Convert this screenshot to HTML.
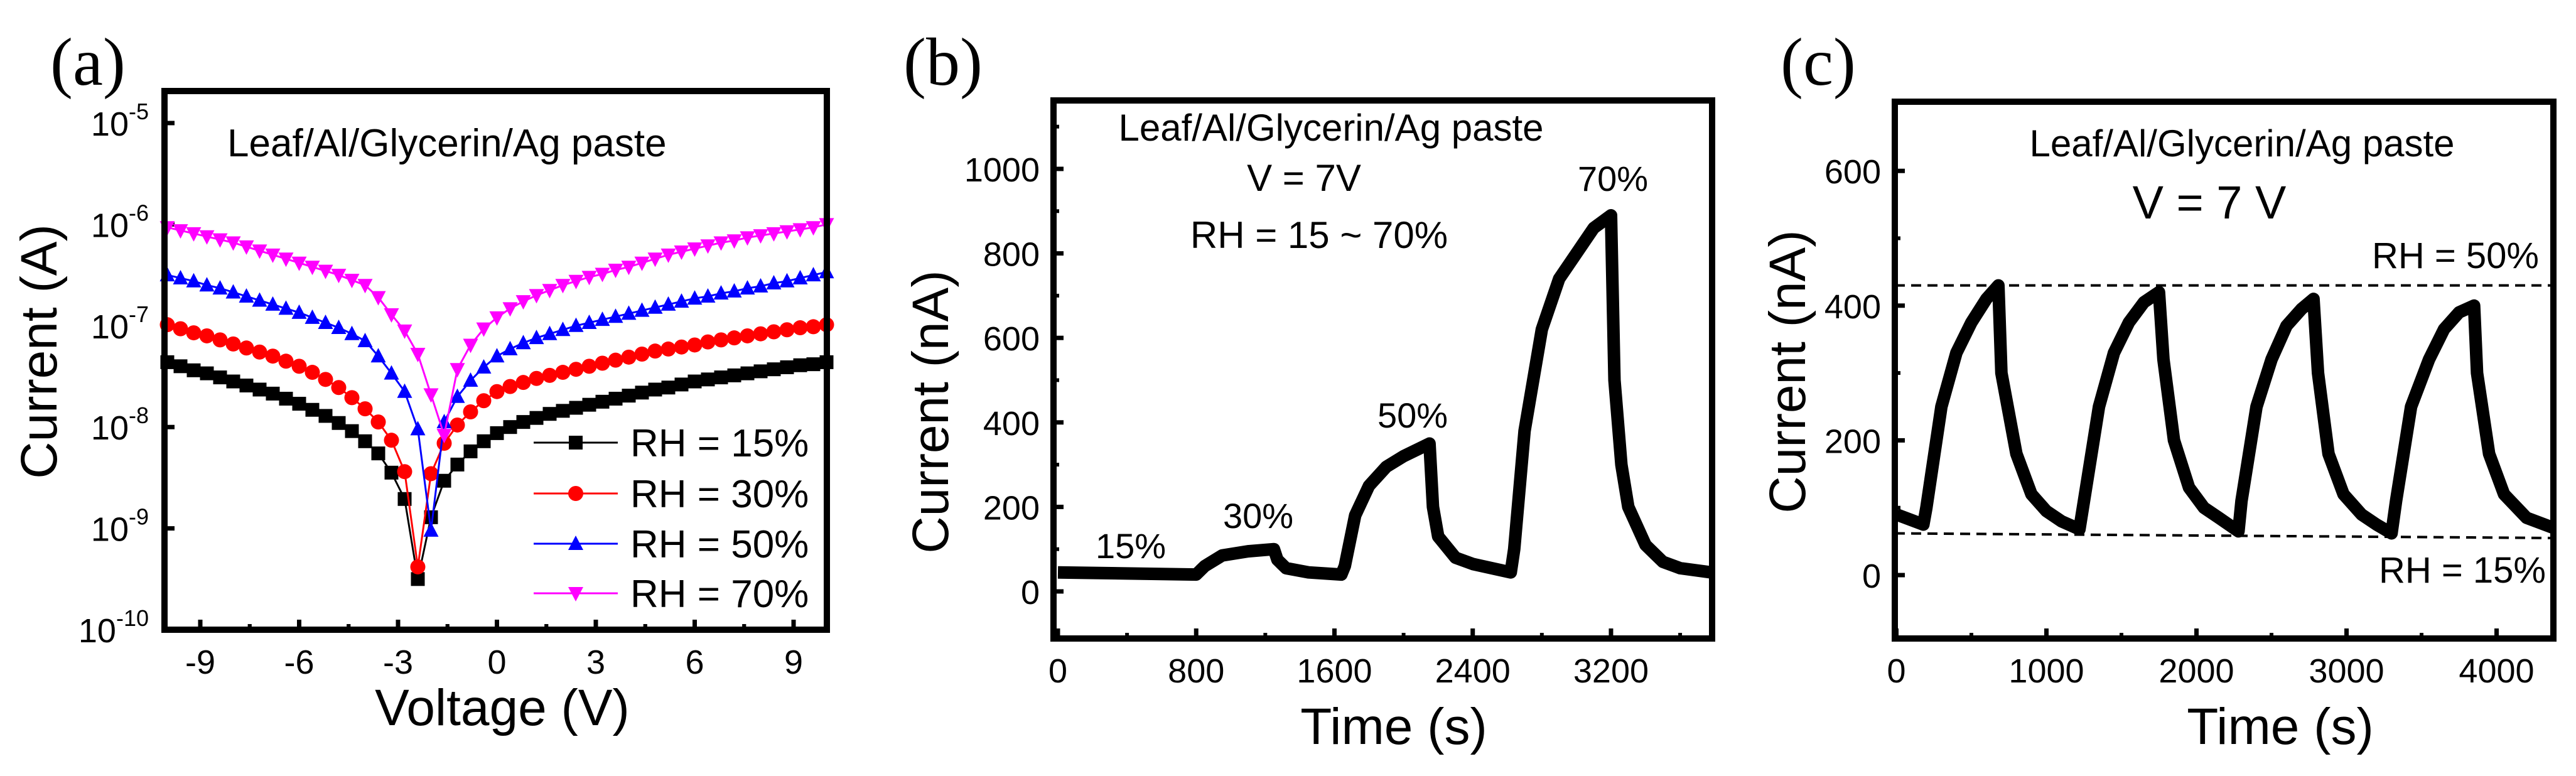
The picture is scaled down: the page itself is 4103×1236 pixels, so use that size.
<!DOCTYPE html>
<html><head><meta charset="utf-8"><style>
html,body{margin:0;padding:0;background:#fff;}
svg{display:block;font-family:"Liberation Sans",sans-serif;}
</style></head><body>
<svg id="fig" width="4103" height="1236" viewBox="0 0 4103 1236" xmlns="http://www.w3.org/2000/svg"></svg>
<script>
// ---------- Panel (a) data: log10(Current) vs Voltage ----------
const voltages = [];
for (let k = 0; k <= 50; k++) voltages.push(+(-10 + 0.4 * k).toFixed(1));
const logI15 = [-7.36,-7.40,-7.44,-7.47,-7.51,-7.55,-7.59,-7.63,-7.67,-7.72,-7.77,-7.83,-7.89,-7.96,-8.04,-8.14,
 -8.26,-8.45,-8.71,-9.50,-8.89,-8.53,-8.37,-8.24,-8.14,-8.06,
 -8.00,-7.95,-7.91,-7.87,-7.84,-7.81,-7.78,-7.75,-7.72,-7.69,-7.66,-7.63,-7.61,-7.58,-7.55,-7.53,-7.51,-7.49,-7.47,-7.45,-7.43,-7.41,-7.39,-7.38,-7.36];
const logI30 = [-6.99,-7.03,-7.07,-7.10,-7.14,-7.18,-7.22,-7.26,-7.30,-7.35,-7.40,-7.46,-7.53,-7.61,-7.71,-7.82,
 -7.95,-8.13,-8.44,-9.38,-8.46,-8.16,-7.98,-7.85,-7.74,-7.65,
 -7.60,-7.56,-7.52,-7.49,-7.46,-7.43,-7.40,-7.37,-7.34,-7.31,-7.28,-7.25,-7.23,-7.21,-7.19,-7.16,-7.14,-7.12,-7.10,-7.08,-7.06,-7.04,-7.02,-7.01,-6.99];
const logI50 = [-6.50,-6.53,-6.56,-6.60,-6.63,-6.67,-6.71,-6.75,-6.79,-6.83,-6.87,-6.92,-6.97,-7.02,-7.08,-7.15,
 -7.30,-7.47,-7.65,-8.02,-9.02,-7.95,-7.70,-7.54,-7.41,-7.30,
 -7.23,-7.17,-7.12,-7.08,-7.04,-7.00,-6.97,-6.94,-6.91,-6.88,-6.85,-6.82,-6.79,-6.76,-6.73,-6.71,-6.68,-6.66,-6.63,-6.61,-6.58,-6.56,-6.53,-6.50,-6.47];
const logI70 = [-6.03,-6.06,-6.09,-6.12,-6.15,-6.18,-6.22,-6.26,-6.30,-6.34,-6.38,-6.42,-6.46,-6.50,-6.55,-6.60,
 -6.72,-6.89,-7.05,-7.28,-7.68,-8.08,-7.43,-7.19,-7.03,-6.92,
 -6.83,-6.76,-6.70,-6.65,-6.60,-6.56,-6.52,-6.49,-6.45,-6.42,-6.38,-6.34,-6.30,-6.27,-6.24,-6.21,-6.18,-6.16,-6.13,-6.11,-6.09,-6.07,-6.05,-6.03,-6.00];
const aXTicks = [-9,-6,-3,0,3,6,9];
const aYTicks = [-10,-9,-8,-7,-6,-5];
const aLegend = ["RH = 15%","RH = 30%","RH = 50%","RH = 70%"];

// ---------- Panel (b) data ----------
const bTime = [0,800,850,950,1100,1250,1270,1320,1450,1640,1660,1720,1800,1900,2000,2100,2150,2170,2200,2300,2400,2620,2640,2700,2800,2900,3000,3100,3200,3220,3260,3300,3400,3500,3600,3780];
const bCurrent = [45,40,60,85,95,100,75,55,45,40,60,180,250,295,320,340,350,200,130,80,65,45,100,380,620,740,800,860,890,500,300,200,110,70,55,45];
const bXTicks = [0,800,1600,2400,3200];
const bYTicks = [0,200,400,600,800,1000];
const bPeakLabels = ["15%","30%","50%","70%"];

// ---------- Panel (c) data ----------
const cTime = [0,180,200,300,400,500,600,680,700,800,900,1000,1100,1220,1250,1350,1450,1550,1650,1750,1780,1850,1950,2050,2150,2280,2300,2400,2500,2600,2700,2780,2810,2880,2980,3100,3200,3300,3330,3430,3550,3650,3750,3850,3870,3950,4050,4200,4380];
const cCurrent = [90,75,100,250,330,375,410,430,300,180,120,95,80,68,110,250,330,375,405,420,320,200,130,100,85,65,110,250,320,370,395,410,300,180,120,90,75,62,110,250,320,365,390,400,300,180,120,85,70];
const cXTicks = [0,1000,2000,3000,4000];
const cYTicks = [0,200,400,600];
const cRefHigh = 430;
const cRefLow = [62,55];

const svg = document.getElementById('fig');
const NS = 'http://www.w3.org/2000/svg';
function mk(tag, attrs, parent) {
  const e = document.createElementNS(NS, tag);
  for (const k in attrs) e.setAttribute(k, attrs[k]);
  (parent || svg).appendChild(e);
  return e;
}
function txt(str, x, y, size, anchor, parent, extra) {
  const t = mk('text', Object.assign({x: x, y: y, 'font-size': size, 'text-anchor': anchor || 'middle', fill: '#000'}, extra || {}), parent);
  t.textContent = str;
  return t;
}
function frame(g, L, T, R, B) {
  const r = mk('rect', {x: L, y: T, width: R - L, height: B - T, fill: 'none', stroke: '#000', 'stroke-width': 10}, g);
  
  
}

// ===== Panel (a) =====
(function () {
  const g = mk('g', {});
  
  
  const L = 262, R = 1317, T = 145, B = 1003;
  const xs = v => 791.5 + v * 52.5;
  const ys = l => 1003 - (l + 10) * 161.4;
  const lab = txt('(a)', 80, 135, 108, 'start', g, {'font-family': '"Liberation Serif",serif'});
  
  
  aXTicks.forEach(v => {
    const x = xs(v);
    mk('line', {x1: x, x2: x, y1: B, y2: B - 16, stroke: '#000', 'stroke-width': 7}, g);
    [v - 1.5, v + 1.5].forEach(m => {
      if (xs(m) > L + 5 && xs(m) < R - 5)
        mk('line', {x1: xs(m), x2: xs(m), y1: B, y2: B - 9, stroke: '#000', 'stroke-width': 6}, g);
    });
    const t = txt(String(v), x, B + 70, 54, 'middle', g);
    
    
  });
  aYTicks.forEach(p => {
    const y = ys(p);
    mk('line', {x1: L, x2: L + 16, y1: y, y2: y, stroke: '#000', 'stroke-width': 7}, g);
    const t = mk('text', {x: 237, y: y + 20, 'font-size': 54, 'text-anchor': 'end', fill: '#000'}, g);
    
    
    t.innerHTML = '10<tspan dy="-26" font-size="36">' + p + '</tspan>';
  });
  const series = [[logI15, '#000', 'square'], [logI30, '#f00', 'circle'], [logI50, '#00f', 'up'], [logI70, '#f0f', 'down']];
  function marker(kind, x, y, col, parent) {
    let e;
    if (kind === 'square') e = mk('rect', {x: x - 11, y: y - 11, width: 22, height: 22, fill: col}, parent);
    else if (kind === 'circle') e = mk('circle', {cx: x, cy: y, r: 12, fill: col}, parent);
    else if (kind === 'up') e = mk('polygon', {points: `${x},${y - 13} ${x - 12},${y + 10} ${x + 12},${y + 10}`, fill: col}, parent);
    else e = mk('polygon', {points: `${x},${y + 13} ${x - 12},${y - 10} ${x + 12},${y - 10}`, fill: col}, parent);
    return e;
  }
  series.forEach((s, i) => {
    const sg = mk('g', {}, g);
    
    
    const pts = s[0].map((l, j) => xs(voltages[j]).toFixed(1) + ',' + ys(l).toFixed(1)).join(' ');
    mk('polyline', {points: pts, fill: 'none', stroke: s[1], 'stroke-width': 3}, sg);
    s[0].forEach((l, j) => {
      const m = marker(s[2], xs(voltages[j]), ys(l), s[1], sg);
      
      
    });
  });
  frame(g, L, T, R, B);
  const lg = mk('g', {}, g);
  
  
  const rowsY = [705, 786, 866, 945];
  aLegend.forEach((name, i) => {
    const eg = mk('g', {}, lg);
    
    
    mk('line', {x1: 850, x2: 984, y1: rowsY[i], y2: rowsY[i], stroke: series[i][1], 'stroke-width': 3}, eg);
    marker(series[i][2], 917, rowsY[i], series[i][1], eg);
    txt(name, 1004, rowsY[i] + 22, 62, 'start', eg);
  });
  const ann = txt('Leaf/Al/Glycerin/Ag paste', 362, 249, 62, 'start', g);
  
  
  const xt = txt('Voltage (V)', 800, 1155, 82, 'middle', g);
  
  
  const yt = txt('Current (A)', 0, 0, 82, 'middle', g, {transform: 'translate(90,560) rotate(-90)'});
  
  
})();

// ===== Time-series panel helper =====
function timePanel(opt) {
  const g = mk('g', {});
  
  
  const {L, R, T, B, x0, y0, kx, ky} = opt;
  const xs = t => x0 + t * kx;
  const ys = v => y0 - v * ky;
  opt.xTicks.forEach(v => {
    const x = xs(v);
    mk('line', {x1: x, x2: x, y1: B, y2: B - 16, stroke: '#000', 'stroke-width': 7}, g);
    const mid = v + opt.xStep / 2;
    if (xs(mid) < R - 5) mk('line', {x1: xs(mid), x2: xs(mid), y1: B, y2: B - 9, stroke: '#000', 'stroke-width': 6}, g);
    const t = txt(String(v), x, B + 70, 54, 'middle', g);
    
    
  });
  opt.yTicks.forEach(v => {
    const y = ys(v);
    mk('line', {x1: L, x2: L + 16, y1: y, y2: y, stroke: '#000', 'stroke-width': 7}, g);
    const mid = v + opt.yStep / 2;
    if (ys(mid) > T + 5) mk('line', {x1: L, x2: L + 9, y1: ys(mid), y2: ys(mid), stroke: '#000', 'stroke-width': 6}, g);
    const t = txt(String(v), L - 22, y + 20, 54, 'end', g);
    
    
  });
  const pts = opt.t.map((t, j) => xs(t).toFixed(1) + ',' + ys(opt.v[j]).toFixed(1)).join(' ');
  const line = mk('polyline', {points: pts, fill: 'none', stroke: '#000', 'stroke-width': 20, 'stroke-linejoin': 'round'}, g);
  
  
  frame(g, L, T, R, B);
  const xt = txt('Time (s)', opt.xTitleX, 1185, 82, 'middle', g);
  
  
  const yt = txt('Current (nA)', 0, 0, 82, 'middle', g, {transform: `translate(${opt.yTitleX},${opt.yTitleY}) rotate(-90)`});
  
  
  return {g, xs, ys};
}

// ===== Panel (b) =====
(function () {
  const p = timePanel({name: 'panel-b', L: 1678, R: 2727, T: 160, B: 1017, x0: 1685, y0: 942, kx: 0.2753, ky: 0.673,
    xTicks: bXTicks, yTicks: bYTicks, xStep: 800, yStep: 200, t: bTime, v: bCurrent, xTitleX: 2220, yTitleX: 1510, yTitleY: 656});
  const g = p.g;
  const lab = txt('(b)', 1439, 135, 108, 'start', g, {'font-family': '"Liberation Serif",serif'});
  
  
  const a1 = txt('Leaf/Al/Glycerin/Ag paste', 2120, 224, 60, 'middle', g);
  
  
  const a2 = txt('V = 7V', 2077, 304, 60, 'middle', g);
  
  
  const a3 = txt('RH = 15 ~ 70%', 2101, 395, 60, 'middle', g);
  
  
  const pos = [[1801, 889], [2004, 841], [2250, 681], [2569, 304]];
  bPeakLabels.forEach((s, i) => {
    const t = txt(s, pos[i][0], pos[i][1], 56, 'middle', g);
    
    
  });
})();

// ===== Panel (c) =====
(function () {
  const p = timePanel({name: 'panel-c', L: 3018, R: 4067, T: 162, B: 1017, x0: 3020.5, y0: 916, kx: 0.239, ky: 1.073,
    xTicks: cXTicks, yTicks: cYTicks, xStep: 1000, yStep: 200, t: cTime, v: cCurrent, xTitleX: 3632, yTitleX: 2875, yTitleY: 592});
  const g = p.g;
  const d1 = mk('line', {x1: 3018, x2: 4067, y1: p.ys(cRefHigh), y2: p.ys(cRefHigh), stroke: '#000', 'stroke-width': 4, 'stroke-dasharray': '16 10'}, g);
  
  
  const d2 = mk('line', {x1: 3018, x2: 4067, y1: p.ys(cRefLow[0]), y2: p.ys(cRefLow[1]), stroke: '#000', 'stroke-width': 4, 'stroke-dasharray': '16 10'}, g);
  
  
  const lab = txt('(c)', 2836, 135, 108, 'start', g, {'font-family': '"Liberation Serif",serif'});
  
  
  const a1 = txt('Leaf/Al/Glycerin/Ag paste', 3571, 249, 60, 'middle', g);
  
  
  const a2 = txt('V = 7 V', 3519, 348, 74, 'middle', g);
  
  
  const r1 = txt('RH = 50%', 4044, 427, 58, 'end', g);
  
  
  const r2 = txt('RH = 15%', 4055, 928, 58, 'end', g);
  
  
})();
</script>
</body></html>
